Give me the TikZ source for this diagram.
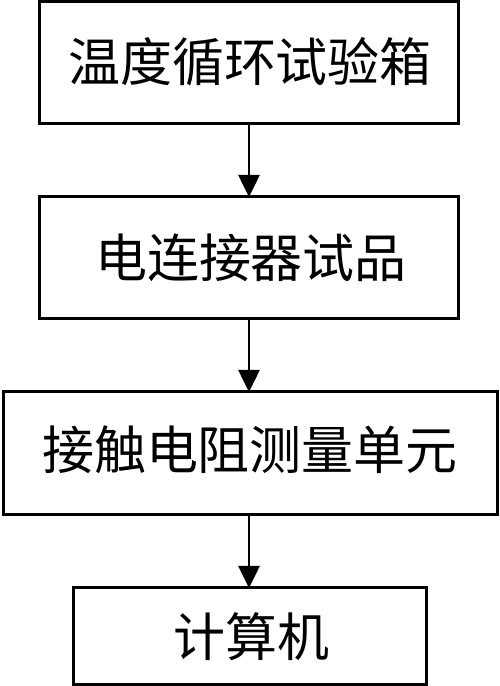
\documentclass[tikz,border=0pt]{standalone}
\usepackage{fontspec}
\newfontfamily\cjk{Noto Sans CJK SC}
\usetikzlibrary{arrows.meta}
\begin{document}
\begin{tikzpicture}[x=1pt,y=1pt,
  box/.style={draw=black,line width=3pt,fill=white},
  lbl/.style={font=\cjk\fontsize{52}{60}\selectfont,inner sep=0pt},
  conn/.style={line width=2.6pt,-{Triangle[length=22pt,width=21pt]}}]
\useasboundingbox (0,0) rectangle (500,686);
\fill[white] (0,0) rectangle (500,686);
% boxes (y flipped: tikz y = 686 - image y)
\draw[box] (39,684.5) rectangle (458,562);
\node[lbl] (t1) at (250,624) {温度循环试验箱};
\coordinate (b1) at (249,562);
\draw[box] (39,489) rectangle (458,367);
\node[lbl] (t2) at (251,428) {电连接器试品};
\coordinate (b2t) at (249,489);
\coordinate (b2) at (249,367);
\draw[box] (3,294) rectangle (497,171);
\node[lbl] (t3) at (250,236) {接触电阻测量单元};
\coordinate (b3t) at (249,294);
\coordinate (b3) at (249,171);
\draw[box] (73,98) rectangle (426,1.5);
\node[lbl] (t4) at (251,49) {计算机};
\coordinate (b4t) at (249,98);
\draw[conn] (b1) -- (b2t);
\draw[conn] (b2) -- (b3t);
\draw[conn] (b3) -- (b4t);
\end{tikzpicture}
\end{document}
